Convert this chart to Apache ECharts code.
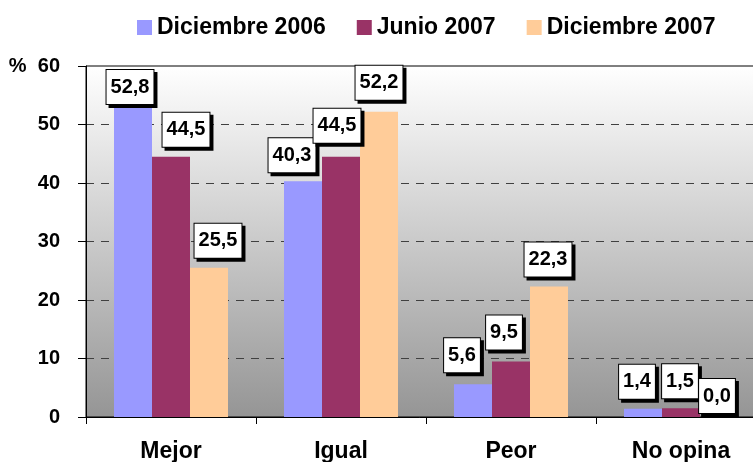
<!DOCTYPE html>
<html>
<head>
<meta charset="utf-8">
<script src="https://cdn.jsdelivr.net/npm/echarts@6/dist/echarts.min.js"></script>
<style>
html,body{margin:0;padding:0;background:#fff;}
#c{width:753px;height:462px;}
</style>
</head>
<body>
<div id="c"></div>
<script>
var categories = ['Mejor', 'Igual', 'Peor', 'No opina'];
var seriesNames = ['Diciembre 2006', 'Junio 2007', 'Diciembre 2007'];
var dic2006 = [52.8, 40.3, 5.6, 1.4];
var jun2007 = [44.5, 44.5, 9.5, 1.5];
var dic2007 = [25.5, 52.2, 22.3, 0.0];
var yTicks = [0, 10, 20, 30, 40, 50, 60];

var colors = ['#9999FF', '#993366', '#FFCC99'];
// manual label placement (style only): [dx, dy] per data point
var labelOffsets = [
  [[-3, -4], [-11, -9], [-11, -12], [-6, -10]],
  [[15, -10], [-4, -14], [-7, -12], [-1, -10]],
  [[9, -10], [0, -12], [-1, -10], [-2, -4]]
];

var FONT = "'Liberation Sans', Arial, sans-serif";
var values = [dic2006, jun2007, dic2007];

function makeSeries(i) {
  return {
    name: seriesNames[i],
    type: 'bar',
    barWidth: 38,
    barGap: '0%',
    itemStyle: { color: colors[i] },
    data: values[i].map(function (v, j) {
      return {
        value: v,
        label: { offset: labelOffsets[i][j] }
      };
    }),
    label: {
      show: true,
      position: 'top',
      distance: 0,
      formatter: function (p) { return p.value.toFixed(1).replace('.', ','); },
      fontFamily: FONT,
      fontWeight: 'bold',
      fontSize: 20,
      lineHeight: 22,
      color: '#000',
      backgroundColor: '#fff',
      borderColor: '#000',
      borderWidth: 1,
      padding: [6, 4, 6, 4],
      shadowColor: '#000',
      shadowOffsetX: 3,
      shadowOffsetY: 3,
      shadowBlur: 0
    },
    z: 3
  };
}

var chart = echarts.init(document.getElementById('c'), null, { renderer: 'canvas' });
chart.setOption({
  animation: false,
  backgroundColor: '#fff',
  color: colors,
  legend: {
    data: seriesNames,
    left: 132,
    top: 11,
    itemWidth: 15,
    itemHeight: 15,
    itemGap: 31,
    icon: 'rect',
    textStyle: { fontFamily: FONT, fontWeight: 'bold', fontSize: 23, color: '#000' }
  },
  grid: {
    left: 86,
    top: 66,
    width: 680,
    bottom: 45,
    outerBoundsMode: 'none',
    containLabel: false,
    show: true,
    borderColor: '#000',
    borderWidth: 1,
    backgroundColor: {
      type: 'linear', x: 0, y: 0, x2: 0, y2: 1,
      colorStops: [{ offset: 0, color: '#ffffff' }, { offset: 1, color: '#959595' }]
    }
  },
  xAxis: {
    type: 'category',
    data: categories,
    axisLine: { lineStyle: { color: '#000', width: 1 } },
    axisTick: { show: true, length: 7, interval: 0, lineStyle: { color: '#000' } },
    axisLabel: { margin: 23, fontFamily: FONT, fontWeight: 'bold', fontSize: 23, color: '#000' },
    splitLine: { show: false }
  },
  yAxis: {
    type: 'value',
    min: yTicks[0],
    max: yTicks[yTicks.length - 1],
    interval: 10,
    axisLine: { show: true, lineStyle: { color: '#000', width: 1 } },
    axisTick: { show: true, length: 8, lineStyle: { color: '#000' } },
    axisLabel: {
      margin: 26,
      fontFamily: FONT, fontWeight: 'bold', fontSize: 20, color: '#000',
      formatter: function (v) { return v === 60 ? '%  ' + v : String(v); }
    },
    splitLine: {
      show: true,
      showMinLine: false,
      showMaxLine: false,
      lineStyle: { color: '#404040', type: [8, 7], width: 1 }
    }
  },
  series: [makeSeries(0), makeSeries(1), makeSeries(2)]
});
</script>
</body>
</html>
